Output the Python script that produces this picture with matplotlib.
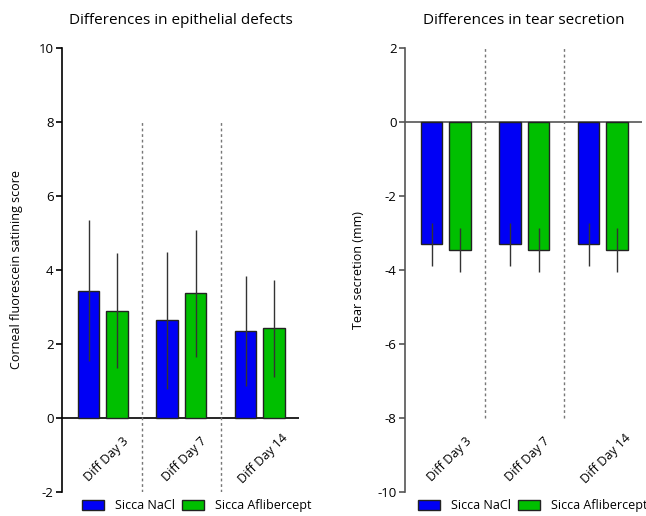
import matplotlib.pyplot as plt
from matplotlib.patches import Patch
import numpy as np

plt.rcParams['font.family'] = ['Open Sans', 'DejaVu Sans']
plt.rcParams['axes.unicode_minus'] = False

days = ['Diff Day 3', 'Diff Day 7', 'Diff Day 14']
groups = ['Sicca NaCl', 'Sicca Aflibercept']

# epithelial defects (mean, SD)
epi_nacl = [3.44, 2.64, 2.36]
epi_nacl_sd = [1.90, 1.85, 1.49]
epi_afl = [2.90, 3.37, 2.42]
epi_afl_sd = [1.56, 1.72, 1.30]

# tear secretion (mean, SD)
tear_nacl = [-3.31, -3.31, -3.31]
tear_nacl_sd = [0.59, 0.59, 0.59]
tear_afl = [-3.46, -3.46, -3.46]
tear_afl_sd = [0.60, 0.60, 0.60]

blue = '#0000F5'
green = '#00BF00'
edge = '#222222'

fig = plt.figure(figsize=(6.46, 5.16), dpi=100)
ax1 = fig.add_axes([0.096, 0.0465, 0.367, 0.8605])
ax2 = fig.add_axes([0.627, 0.0465, 0.367, 0.8605])

x = np.arange(len(days))
w = 0.274
off = 0.181


def draw(ax, m1, s1, m2, s2, ylim, yticks, dash_top, dash_bot, title, ylabel, axcol):
    ax.bar(x - off, m1, w, color=blue, edgecolor=edge, linewidth=1, zorder=2)
    ax.bar(x + off, m2, w, color=green, edgecolor=edge, linewidth=1, zorder=2)
    ax.errorbar(x - off, m1, yerr=s1, fmt='none', ecolor='#333333', elinewidth=1, capsize=0, zorder=3)
    ax.errorbar(x + off, m2, yerr=s2, fmt='none', ecolor='#333333', elinewidth=1, capsize=0, zorder=3)
    ax.axhline(0, color=axcol, lw=1.2, zorder=1)
    for xd in [0.5, 1.5]:
        ax.plot([xd, xd], [dash_bot, dash_top], ls=(0, (2, 2)), color='#777777', lw=1, zorder=1)
    ax.set_xlim(-0.52, 2.5)
    ax.set_ylim(*ylim)
    ax.set_yticks(yticks)
    ax.set_xticks([])
    for s in ['top', 'right', 'bottom']:
        ax.spines[s].set_visible(False)
    ax.spines['left'].set_color(axcol)
    ax.spines['left'].set_linewidth(1.2)
    ax.tick_params(axis='y', length=4, width=1.2, color=axcol, labelsize=9.5, pad=2)
    for i, d in enumerate(days):
        ax.text(i + 0.04, 0.074, d, transform=ax.get_xaxis_transform(),
                rotation=45, ha='center', va='center', fontsize=9)
    ax.set_title(title, fontsize=11, pad=17)
    ax.set_ylabel(ylabel, fontsize=9)
    ax.set_facecolor('none')


draw(ax1, epi_nacl, epi_nacl_sd, epi_afl, epi_afl_sd, (-2, 10), range(-2, 11, 2),
     8, -2, 'Differences in epithelial defects', 'Corneal fluorescein satining score', 'black')
draw(ax2, tear_nacl, tear_nacl_sd, tear_afl, tear_afl_sd, (-10, 2), range(-10, 3, 2),
     2, -8, 'Differences in tear secretion', 'Tear secretion (mm)', '#555555')
ax1.yaxis.set_label_coords(-0.165, 0.5)
ax2.yaxis.set_label_coords(-0.17, 0.5)

handles = [Patch(facecolor=blue, edgecolor=edge), Patch(facecolor=green, edgecolor=edge)]
for ax, xa in [(ax1, 0.065), (ax2, 0.035)]:
    ax.legend(handles, groups, loc='upper left', bbox_to_anchor=(xa, -0.005), ncol=2,
              frameon=False, fontsize=9, handlelength=1.7, handleheight=0.85,
              columnspacing=0.6, handletextpad=0.9, borderaxespad=0)

fig.savefig('out.png', dpi=100)
